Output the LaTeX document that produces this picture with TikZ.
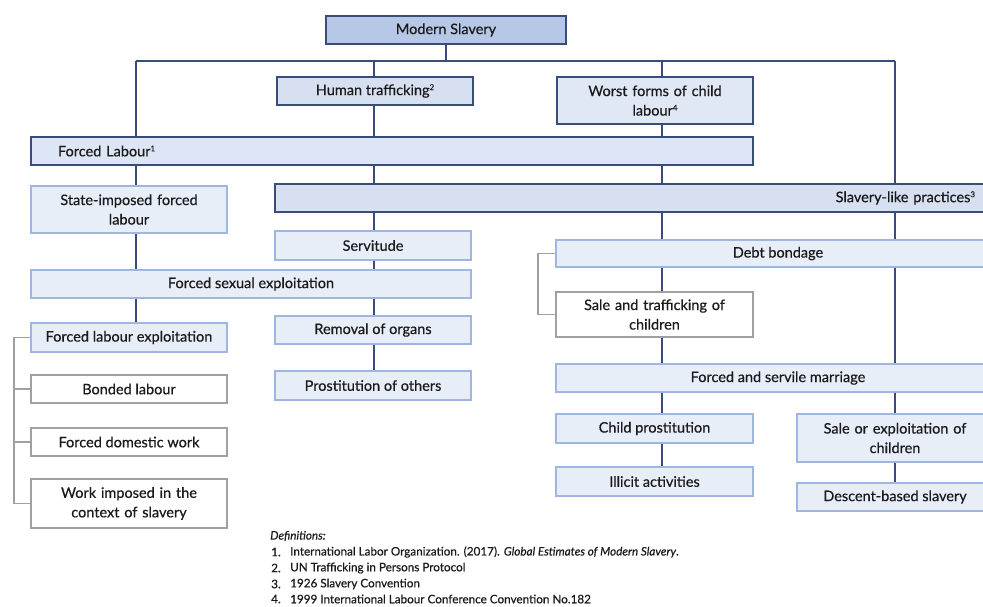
\documentclass[tikz,border=0pt]{standalone}
\usepackage{fontspec}
\setmainfont{Lato}
\newfontfamily\boxfont{Lato}[FakeBold=0.5]
\usetikzlibrary{calc}
\definecolor{navy}{HTML}{3A4D7A}
\definecolor{msfill}{HTML}{B7C8E6}
\definecolor{midfill}{HTML}{D6E0F1}
\definecolor{lightfill}{HTML}{E8EEF8}
\definecolor{lightedge}{HTML}{9FB6E0}
\definecolor{grayedge}{HTML}{A0A0A0}
\definecolor{txt}{HTML}{1A1A1A}
\newcommand{\supmark}[1]{\raisebox{5pt}{\fontsize{8}{8}\selectfont #1}}
\tikzset{
  box/.style={rectangle, align=center, inner sep=2pt, text=txt, font=\boxfont\fontsize{14.5}{19.5}\selectfont},
  darkbox/.style={box, draw=navy, line width=1.6pt, fill=midfill},
  lightbox/.style={box, draw=lightedge, line width=1.3pt, fill=lightfill},
  whitebox/.style={box, draw=grayedge, line width=1.3pt, fill=white},
  link/.style={draw=navy, line width=1.6pt},
  glink/.style={draw=grayedge, line width=1.3pt},
  note/.style={anchor=west, inner sep=0pt, text=txt, font=\boxfont\fontsize{11.7}{13}\selectfont}
}
\begin{document}
\begin{tikzpicture}[x=1pt,y=-1pt]
\useasboundingbox (0,0) rectangle (983,606);
\clip (0,0) rectangle (983,606);
\fill[white] (0,0) rectangle (983,606);

% column / bus coordinates
\coordinate (busL) at (136,61);
\coordinate (busR) at (895,61);
\coordinate (colA) at (136,0);
\coordinate (colB) at (374,0);
\coordinate (colC) at (662,0);
\coordinate (colD) at (895,0);
\coordinate (gL) at (14,0);
\coordinate (gR) at (538,0);

\path[link] (busL) -- (busR);

% nodes
\node[darkbox, fill=msfill, minimum width=240, minimum height=28] (ms) at (446,30) {Modern Slavery};
\node[darkbox, minimum width=196, minimum height=28] (ht) at (375,91) {Human trafficking\supmark{2}};
\node[darkbox, fill=lightfill!60!midfill, minimum width=196, minimum height=47, text width=186] (wf) at (655,100.5) {Worst forms of child\\labour\supmark{4}};
\node[darkbox, fill=lightfill!40!midfill, minimum height=28, text width=668, inner xsep=27pt, align=left] (fl) at (392,151) {Forced Labour\supmark{1}};
\node[darkbox, minimum height=28, text width=675, inner xsep=25pt, align=right] (sl) at (637.5,198) {Slavery-like practices\supmark{3}};

\node[lightbox, minimum width=196, minimum height=47, text width=186] (si) at (129,209.5) {State-imposed forced\\labour};
\node[lightbox, minimum width=196, minimum height=29] (sv) at (373,245.5) {Servitude};
\node[lightbox, minimum width=440, minimum height=28] (fse) at (251,284) {Forced sexual exploitation};
\node[lightbox, minimum width=196, minimum height=28] (ro) at (373,330) {Removal of organs};
\node[lightbox, minimum width=196, minimum height=29] (po) at (373,385.5) {Prostitution of others};
\node[lightbox, minimum width=196, minimum height=29] (fle) at (129,337.5) {Forced labour exploitation};
\node[whitebox, minimum width=196, minimum height=28] (bl) at (129,389) {Bonded labour};
\node[whitebox, minimum width=196, minimum height=28] (fdw) at (129,442) {Forced domestic work};
\node[whitebox, minimum width=196, minimum height=49, text width=186] (wi) at (129,503.5) {Work imposed in the\\context of slavery};

\node[lightbox, minimum width=444, minimum height=27] (db) at (778,253.5) {Debt bondage};
\node[whitebox, minimum width=197, minimum height=45, text width=187] (stc) at (654.5,314.5) {Sale and trafficking of\\children};
\node[lightbox, minimum width=444, minimum height=28] (fsm) at (778,378) {Forced and servile marriage};
\node[lightbox, minimum width=197, minimum height=29] (cp) at (654.5,428.5) {Child prostitution};
\node[lightbox, minimum width=197, minimum height=29] (ia) at (654.5,481.5) {Illicit activities};
\node[lightbox, minimum width=196, minimum height=48, text width=186] (soe) at (895,438) {Sale or exploitation of\\children};
\node[lightbox, minimum width=196, minimum height=28] (dbs) at (895,497) {Descent-based slavery};

% vertical connectors
\path[link] (ms.south) -- (ms.south |- busL);
\path[link] (ht.north -| colB) -- (colB |- busL);
\path[link] (wf.north -| colC) -- (colC |- busL);
\path[link] (fl.north -| colA) -- (busL);
\path[link] (sl.north -| colD) -- (busR);

\path[link] (ht.south -| colB) -- (fl.north -| colB);
\path[link] (wf.south -| colC) -- (fl.north -| colC);

\path[link] (fl.south -| colA) -- (si.north -| colA);
\path[link] (fl.south -| colB) -- (sl.north -| colB);
\path[link] (fl.south -| colC) -- (sl.north -| colC);

\path[link] (si.south -| colA) -- (fse.north -| colA);
\path[link] (fse.south -| colA) -- (fle.north -| colA);
\path[link] (sl.south -| colB) -- (sv.north -| colB);
\path[link] (sv.south -| colB) -- (fse.north -| colB);
\path[link] (fse.south -| colB) -- (ro.north -| colB);
\path[link] (ro.south -| colB) -- (po.north -| colB);

\path[link] (sl.south -| colC) -- (db.north -| colC);
\path[link] (db.south -| colC) -- (stc.north -| colC);
\path[link] (stc.south -| colC) -- (fsm.north -| colC);
\path[link] (fsm.south -| colC) -- (cp.north -| colC);
\path[link] (cp.south -| colC) -- (ia.north -| colC);

\path[link] (sl.south -| colD) -- (db.north -| colD);
\path[link] (db.south -| colD) -- (fsm.north -| colD);
\path[link] (fsm.south -| colD) -- (soe.north -| colD);
\path[link] (soe.south -| colD) -- (dbs.north -| colD);

% gray brackets
\path[glink] (fle.west) -- (fle.west -| gL) -- (wi.west -| gL) -- (wi.west);
\path[glink] (bl.west) -- (bl.west -| gL);
\path[glink] (fdw.west) -- (fdw.west -| gL);
\path[glink] (db.west) -- (db.west -| gR) -- (stc.west -| gR) -- (stc.west);

% definitions
\node[note] (defh) at (270,536) {\itshape Definitions:};
\node[note] (n1) at (271,552) {1.};
\node[note] (t1) at (290,552) {International Labor Organization. (2017). \textit{Global Estimates of Modern Slavery}.};
\node[note] (n2) at (271,568) {2.};
\node[note] (t2) at (290,568) {UN Trafficking in Persons Protocol};
\node[note] (n3) at (271,584) {3.};
\node[note] (t3) at (290,584) {1926 Slavery Convention};
\node[note] (n4) at (271,599) {4.};
\node[note] (t4) at (290,599) {1999 International Labour Conference Convention No.182};
\end{tikzpicture}
\end{document}
